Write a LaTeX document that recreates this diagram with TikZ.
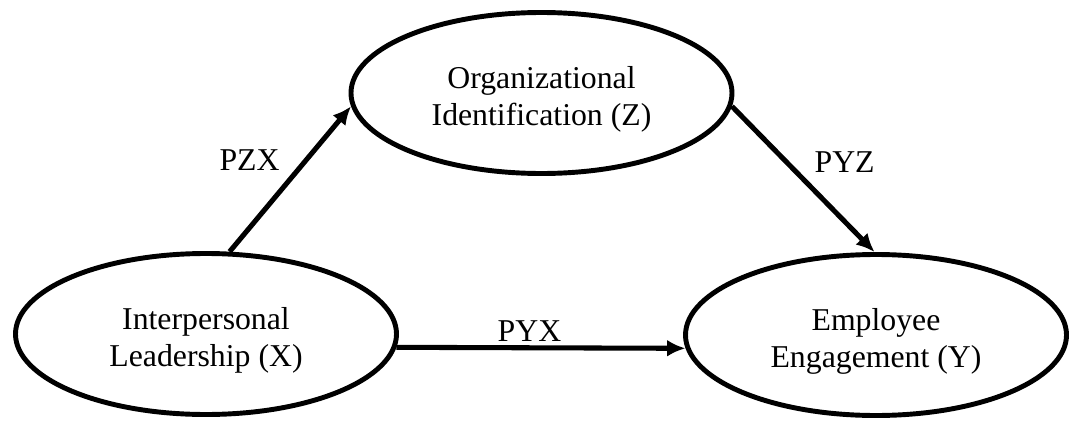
\documentclass[tikz,border=0pt]{standalone}
\usepackage{fontspec}
\setmainfont{Liberation Serif}
\usepackage{tikz}
\usetikzlibrary{shapes.geometric,arrows.meta}

\begin{document}
\begin{tikzpicture}[
    font=\fontsize{22.6}{26.3}\selectfont,
    % Node styles:
    construct/.style={ellipse, draw, line width=3.5pt, align=center,
                      inner sep=0pt, text height=51pt,
                      minimum width=9.525cm, minimum height=4.025cm},
    % Arrow style:
    path/.style={-{Latex[length=4.6mm, width=4.2mm]}, line width=3.6pt},
]
\useasboundingbox (0,0) rectangle (26.725,10.525);

% --- NODES ---
\node[construct] (lead)   at (5.15,2.175)    {Interpersonal\\Leadership (X)};
\node[construct] (ident)  at (13.5375,8.2)   {Organizational\\Identification (Z)};
\node[construct] (engage) at (21.9,2.15)     {Employee\\Engagement (Y)};

% --- ARROWS ---
% X -> Z
\draw[path] (lead.74) -- node[pos=0.63, anchor=east, inner sep=0pt, xshift=-0.6cm] {PZX} (ident.184);

% Z -> Y
\draw[path] (ident.-4) -- node[pos=0.385, anchor=west, inner sep=0pt, xshift=0.63cm] {PYZ} (engage.91);

% X -> Y
\draw[path] (lead.-4) -- node[pos=0.46, anchor=base, inner sep=0pt, yshift=0.15cm] {PYX} (engage.184);

\end{tikzpicture}
\end{document}
